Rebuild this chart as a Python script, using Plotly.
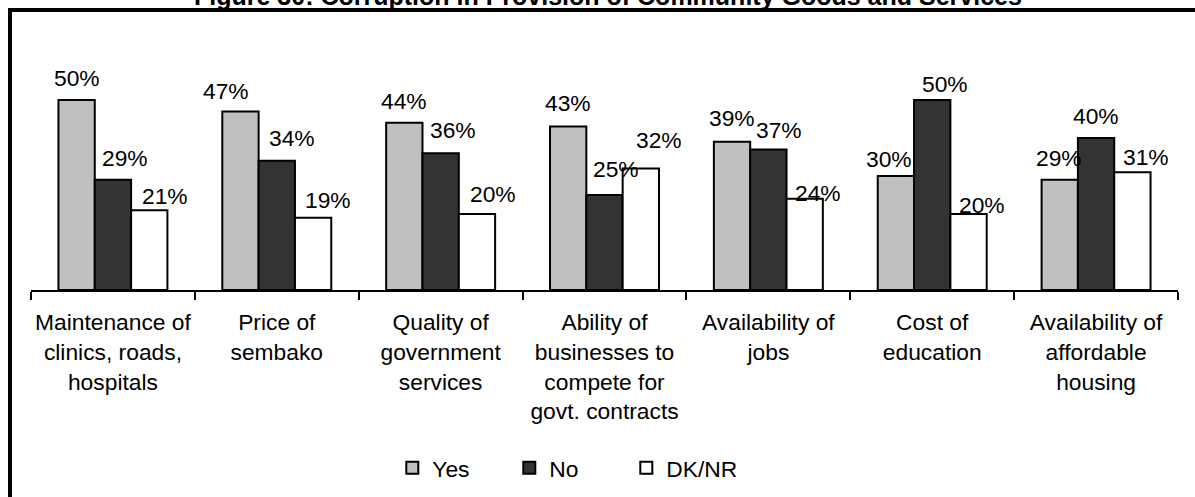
import plotly.graph_objects as go

# ---- data -------------------------------------------------------------
categories = [
    "Maintenance of<br>clinics, roads,<br>hospitals",
    "Price of<br>sembako",
    "Quality of<br>government<br>services",
    "Ability of<br>businesses to<br>compete for<br>govt. contracts",
    "Availability of<br>jobs",
    "Cost of<br>education",
    "Availability of<br>affordable<br>housing",
]
yes = [50, 47, 44, 43, 39, 30, 29]
no = [29, 34, 36, 25, 37, 50, 40]
dknr = [21, 19, 20, 32, 24, 20, 31]
series_names = ["Yes", "No", "DK/NR"]
title_text = "Figure 30: Corruption in Provision of Community Goods and Services"

# ---- style ------------------------------------------------------------
colors = {"Yes": "#c0c0c0", "No": "#333333", "DK/NR": "#ffffff"}
# per-label nudges (px) relative to bar centre / bar top, as placed in the original
label_dx = {"Yes": [0, -14, 0, 0, 0, -7, -1],
            "No": [12, 15, 12, 11, 11, 13, 0],
            "DK/NR": [16, 15, 16, 18, 13, 13, 14]}
label_dy = {"Yes": [22, 20, 22, 24, 24, 17, 22],
            "No": [22, 23, 23, 26, 19, 16, 22],
            "DK/NR": [14, 18, 20, 28, 6, 9, 15]}

FONT = "Liberation Sans, Arial, sans-serif"
FS = 22.8
W, H = 1195, 497
ML, MR, MT, MB = 31, 17, 62, 207
BARGAP = 0.335
YMAX = 60

fig = go.Figure()
values = {"Yes": yes, "No": no, "DK/NR": dknr}
for name in series_names:
    fig.add_trace(go.Bar(
        x=categories, y=values[name], name=name,
        marker=dict(color=colors[name], line=dict(color="#000000", width=2)),
        hoverinfo="skip",
    ))

plot_w = W - ML - MR
cat_w = plot_w / len(categories)
bar_w = cat_w * (1 - BARGAP) / len(series_names)

annotations = []
for si, name in enumerate(series_names):
    off = (si - (len(series_names) - 1) / 2) * bar_w
    for ci, cat in enumerate(categories):
        v = values[name][ci]
        annotations.append(dict(
            x=cat, y=v, xref="x", yref="y", text=f"{v}%", showarrow=False,
            xshift=off + label_dx[name][ci], yshift=label_dy[name][ci],
            xanchor="center", yanchor="middle",
            font=dict(family=FONT, size=FS, color="#000000"),
        ))

annotations.append(dict(
    x=0.503, y=1.289, xref="paper", yref="paper", text=f"<b>{title_text}</b>",
    showarrow=False, xanchor="center", yanchor="middle",
    font=dict(family=FONT, size=25, color="#000000"),
))

fig.update_layout(
    width=W, height=H, autosize=False,
    margin=dict(l=ML, r=MR, t=MT, b=MB, pad=0, autoexpand=False),
    paper_bgcolor="#ffffff", plot_bgcolor="#ffffff",
    barmode="group", bargap=BARGAP, bargroupgap=0,
    font=dict(family=FONT, size=FS, color="#000000"),
    showlegend=True,
    legend=dict(orientation="h", x=0.468, xanchor="center", y=-0.78, yanchor="middle",
                font=dict(family=FONT, size=FS, color="#000000"),
                entrywidth=72, entrywidthmode="pixels", bgcolor="rgba(0,0,0,0)",
                traceorder="normal"),
    annotations=annotations,
    shapes=[dict(type="rect", xref="paper", yref="paper",
                 x0=(10 - ML) / plot_w, x1=(1215 - ML) / plot_w,
                 y0=-(520 - (H - MB)) / (H - MB - MT), y1=(H - MB - 10) / (H - MB - MT),
                 line=dict(color="#000000", width=4), fillcolor="rgba(0,0,0,0)", layer="above")],
)
fig.update_xaxes(showline=True, linecolor="#000000", linewidth=2,
                 ticks="outside", tickson="boundaries", ticklen=8, tickwidth=2, tickcolor="#000000",
                 ticklabelstandoff=11, automargin=False,
                 showgrid=False, zeroline=False, tickangle=0,
                 tickfont=dict(family=FONT, size=FS, color="#000000"))
fig.update_yaxes(visible=False, range=[0, YMAX], showgrid=False, zeroline=False, automargin=False)

fig.write_html("out.html")
